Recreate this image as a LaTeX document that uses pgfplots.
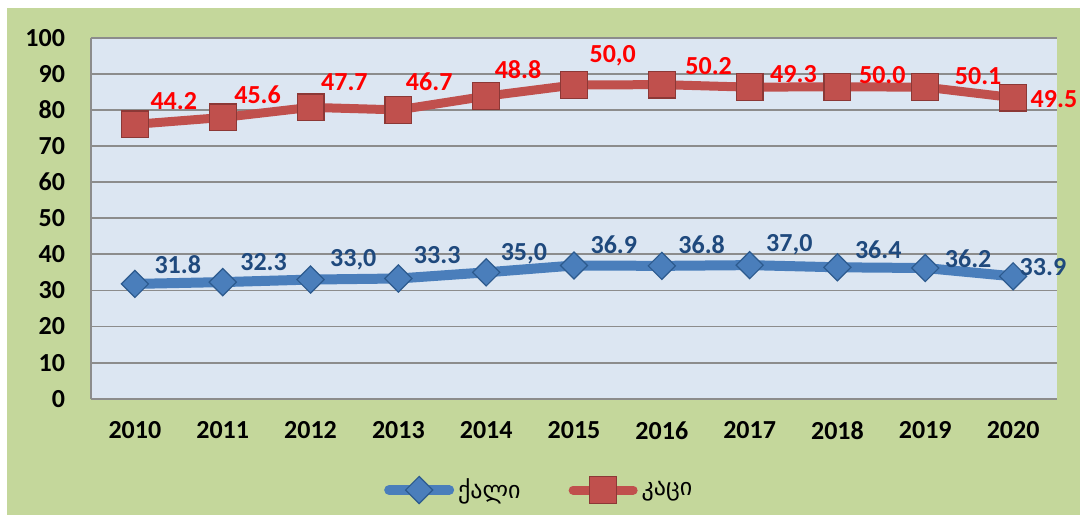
\documentclass[border=0pt]{standalone}
\usepackage{fontspec}
\setmainfont{Carlito}
\newfontfamily\geo{DejaVu Sans}
\usepackage{pgfplots}
\usepackage{pgfplotstable}
\pgfplotsset{compat=1.18}

\definecolor{bgout}{HTML}{C4D79B}
\definecolor{bgplot}{HTML}{DCE6F2}
\definecolor{fblue}{HTML}{4A7EBB}
\definecolor{fblueedge}{HTML}{2C5A8E}
\definecolor{fbluetxt}{HTML}{1F497D}
\definecolor{mred}{HTML}{C0504D}
\definecolor{mrededge}{HTML}{8C3836}
\definecolor{gridgray}{HTML}{8C8C8C}

% women (f) and men (m); men are stacked on top of women as in the original
% dx/dy: label offsets in pt from the marker centre
\pgfplotstableread{
yr f    flab fdx fdy m    mlab mdx  mdy
0  31.8 31.8 9.5 5   44.2 44.2 7.5  7
1  32.3 32.3 8.5 5.5 45.6 45.6 5.5  6.5
2  33.0 33,0 9.5 4.5 47.7 47.7 5    8
3  33.3 33.3 7.5 7   46.7 46.7 3.5  9.5
4  35.0 35,0 7   4   48.8 48.8 4    8.5
5  36.9 36.9 8   5.5 50.0 50,0 7.5  9
6  36.8 36.8 8   6   50.2 50.2 11.5 4.5
7  37.0 37,0 8   5   49.3 49.3 10   2
8  36.4 36.4 8.5 4   50.0 50.0 10.5 1.5
9  36.2 36.2 9.5 0   50.1 50.1 14.5 1
10 33.9 33.9 3   0   49.5 49.5 8.5  -5.5
}\data

\begin{document}
\begin{tikzpicture}
\fill[white] (-45.5pt,-60.65pt) rectangle (497pt,199.35pt);
\fill[bgout] (-42pt,-58.15pt) rectangle (494.5pt,195.35pt);
\begin{axis}[
  scale only axis,
  width=483pt, height=180.5pt,
  xmin=-0.5, xmax=10.5,
  ymin=0, ymax=100,
  xtick={0,...,10},
  xticklabels={2010,2011,2012,2013,2014,2015,2016,2017,2018,2019,2020},
  ytick={0,10,...,100},
  ymajorgrids,
  grid style={gridgray, line width=0.9pt},
  axis background/.style={fill=bgplot},
  axis x line*=bottom, axis y line*=left,
  axis line style={gridgray, line width=1.2pt, -},
  major tick length=0pt,
  /pgf/number format/assume math mode=true,
  tick label style={font=\fontsize{13}{13}\selectfont\bfseries},
  yticklabel style={xshift=-9.5pt},
  xticklabel style={yshift=-8pt},
  stack plots=y,
  point meta=explicit symbolic,
  nodes near coords,
  legend style={at={(0.465,-0.253)}, anchor=center, draw=none, fill=none,
    legend columns=2, font=\geo\fontsize{12}{12}\selectfont,
    /tikz/every even column/.append style={column sep=22pt}},
  legend image code/.code={%
    \draw[line cap=round, mark repeat=2, mark phase=2]
      plot coordinates {(0pt,0pt) (15pt,0pt) (30pt,0pt)};},
]
\addplot[fblue, line width=5pt, mark=square*,
  mark options={rotate=45, fill=fblue, draw=fblueedge, line width=0.6pt},
  mark size=4.8pt,
  visualization depends on={\thisrow{fdx} \as \dx},
  visualization depends on={\thisrow{fdy} \as \dy},
  nodes near coords style={anchor=south west, inner sep=0pt,
    xshift=\dx pt, yshift=\dy pt, text=fbluetxt,
    font=\fontsize{13}{13}\selectfont\bfseries}]
  table[x=yr, y=f, meta=flab] {\data};
\addlegendentry{ქალი}
\addplot[mred, line width=4.5pt, mark=square*,
  mark options={fill=mred, draw=mrededge, line width=0.6pt},
  mark size=6.7pt,
  visualization depends on={\thisrow{mdx} \as \dx},
  visualization depends on={\thisrow{mdy} \as \dy},
  nodes near coords style={anchor=south west, inner sep=0pt,
    xshift=\dx pt, yshift=\dy pt, text=red,
    font=\fontsize{13}{13}\selectfont\bfseries}]
  table[x=yr, y=m, meta=mlab] {\data};
\addlegendentry{კაცი}
\end{axis}
\end{tikzpicture}
\end{document}
